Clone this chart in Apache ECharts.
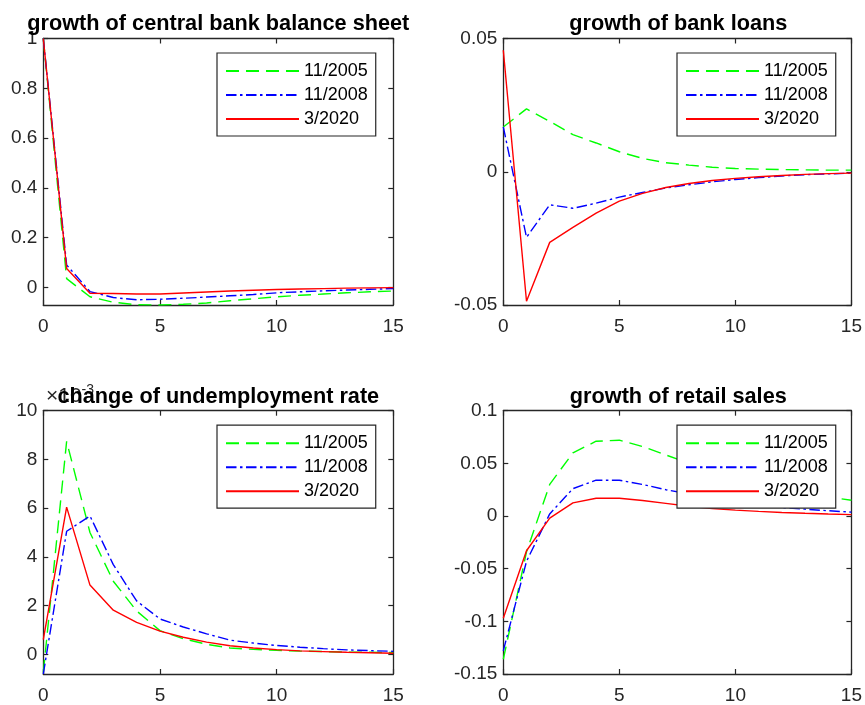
<!DOCTYPE html>
<html>
<head>
<meta charset="utf-8">
<script src="https://cdn.jsdelivr.net/npm/echarts@6/dist/echarts.min.js"></script>
<style>
  html, body { margin: 0; padding: 0; background: #fff; }
  #chart { width: 865px; height: 705px; }
</style>
</head>
<body>
<div id="chart"></div>
<script>
// Impulse responses over 0..15 periods for three episodes
const periods = [0, 1, 2, 3, 4, 5, 6, 7, 8, 9, 10, 11, 12, 13, 14, 15];
const episodes = ['11/2005', '11/2008', '3/2020'];

const panelTitles = [
  'growth of central bank balance sheet',
  'growth of bank loans',
  'change of undemployment rate',
  'growth of retail sales'
];

// growth of central bank balance sheet
const balance2005 = [1, 0.035, -0.038, -0.060, -0.070, -0.071, -0.068, -0.063, -0.054, -0.046, -0.038, -0.032, -0.027, -0.022, -0.018, -0.015];
const balance2008 = [1, 0.090, -0.017, -0.041, -0.050, -0.048, -0.044, -0.039, -0.034, -0.029, -0.022, -0.018, -0.014, -0.011, -0.008, -0.005];
const balance2020 = [1, 0.076, -0.024, -0.025, -0.027, -0.027, -0.023, -0.019, -0.015, -0.012, -0.009, -0.007, -0.005, -0.003, -0.002, -0.001];

// growth of bank loans
const loans2005 = [0.0168, 0.0236, 0.0189, 0.0139, 0.0108, 0.0075, 0.0050, 0.0034, 0.0025, 0.0017, 0.0012, 0.0010, 0.0008, 0.0007, 0.0006, 0.0006];
const loans2008 = [0.0168, -0.0246, -0.0124, -0.0137, -0.0118, -0.0095, -0.0078, -0.0061, -0.0049, -0.0038, -0.0029, -0.0022, -0.0016, -0.0011, -0.0008, -0.0005];
const loans2020 = [0.0456, -0.0486, -0.0265, -0.0209, -0.0155, -0.0110, -0.0081, -0.0059, -0.0044, -0.0033, -0.0025, -0.0019, -0.0014, -0.0010, -0.0007, -0.0005];

// change of unemployment rate
const unemp2005 = [-0.00075, 0.00874, 0.00500, 0.00300, 0.00178, 0.00097, 0.00064, 0.00041, 0.00026, 0.00020, 0.00016, 0.00013, 0.00011, 0.00009, 0.00008, 0.00007];
const unemp2008 = [-0.00081, 0.00505, 0.00568, 0.00368, 0.00219, 0.00145, 0.00112, 0.00084, 0.00058, 0.00046, 0.00036, 0.00029, 0.00023, 0.00018, 0.00015, 0.00012];
const unemp2020 = [0.00060, 0.00604, 0.00284, 0.00181, 0.00131, 0.00095, 0.00070, 0.00050, 0.00035, 0.00026, 0.00019, 0.00014, 0.00011, 0.00008, 0.00006, 0.00004];

// growth of retail sales
const retail2005 = [-0.136, -0.034, 0.030, 0.060, 0.071, 0.072, 0.066, 0.058, 0.050, 0.043, 0.036, 0.031, 0.026, 0.022, 0.018, 0.015];
const retail2008 = [-0.128, -0.043, 0.002, 0.026, 0.034, 0.034, 0.030, 0.025, 0.021, 0.017, 0.013, 0.010, 0.008, 0.0065, 0.005, 0.0037];
const retail2020 = [-0.097, -0.033, -0.002, 0.0125, 0.0169, 0.0169, 0.0147, 0.0120, 0.0093, 0.0072, 0.0056, 0.0044, 0.0034, 0.0026, 0.0019, 0.0013];

// y-axis ranges and tick values per panel
const yRanges = [[-0.071, 1], [-0.05, 0.05], [-0.00081, 0.01], [-0.15, 0.1]];
const yTicks = [
  [0, 0.2, 0.4, 0.6, 0.8, 1],
  [-0.05, 0, 0.05],
  [0, 0.002, 0.004, 0.006, 0.008, 0.01],
  [-0.15, -0.1, -0.05, 0, 0.05, 0.1]
];
const xTicks = [0, 5, 10, 15];

const panelSeries = [
  [balance2005, balance2008, balance2020],
  [loans2005, loans2008, loans2020],
  [unemp2005, unemp2008, unemp2020],
  [retail2005, retail2008, retail2020]
];

const FONT = '"Liberation Sans", Arial, Helvetica, sans-serif';
const AXIS_COLOR = '#262626';

// plot boxes in pixels
const boxes = [
  { left: 43.3, top: 38.5, width: 350, height: 266.5 },
  { left: 503.3, top: 38.5, width: 350, height: 266.5 },
  { left: 43.3, top: 410.7, width: 350, height: 266.6 },
  { left: 503.3, top: 410.7, width: 350, height: 266.6 }
];

const lineStyles = [
  { color: '#00ff00', type: [13, 7] },
  { color: '#0000ff', type: [10.5, 3.5, 2.5, 3.5] },
  { color: '#ff0000', type: 'solid' }
];

function fmtY(panel) {
  return function (v) {
    if (panel === 2) return String(Math.round(v * 1000));
    const r = Math.round(v * 1000) / 1000;
    return String(r);
  };
}

const grids = [], xAxes = [], yAxes = [], series = [], legends = [];

boxes.forEach(function (b, p) {
  grids.push({ left: b.left, top: b.top, width: b.width, height: b.height, containLabel: false });
  const commonLine = { show: true, onZero: false, lineStyle: { color: AXIS_COLOR, width: 1.3 } };
  const tick = { show: true, inside: true, length: 5, lineStyle: { color: AXIS_COLOR, width: 1.2 } };
  // bottom and top x axes
  [false, true].forEach(function (isTop) {
    xAxes.push({
      type: 'value', gridIndex: p, min: 0, max: 15,
      position: isTop ? 'top' : 'bottom',
      axisLine: commonLine,
      axisTick: Object.assign({ customValues: xTicks }, tick),
      axisLabel: {
        show: !isTop, customValues: xTicks, margin: 12,
        color: AXIS_COLOR, fontSize: 19, fontFamily: FONT
      },
      splitLine: { show: false }
    });
  });
  // left and right y axes
  [false, true].forEach(function (isRight) {
    yAxes.push({
      type: 'value', gridIndex: p, min: yRanges[p][0], max: yRanges[p][1],
      position: isRight ? 'right' : 'left',
      axisLine: commonLine,
      axisTick: Object.assign({ customValues: yTicks[p] }, tick),
      axisLabel: {
        show: !isRight, customValues: yTicks[p], margin: 6,
        color: AXIS_COLOR, fontSize: 19, fontFamily: FONT,
        formatter: fmtY(p)
      },
      splitLine: { show: false }
    });
  });
  panelSeries[p].forEach(function (vals, k) {
    series.push({
      type: 'line',
      name: episodes[k],
      xAxisIndex: 2 * p,
      yAxisIndex: 2 * p,
      data: periods.map(function (t, i) { return [t, vals[i]]; }),
      symbol: 'none',
      smooth: false,
      clip: true,
      lineStyle: { color: lineStyles[k].color, type: lineStyles[k].type, width: 1.4 },
      itemStyle: { color: lineStyles[k].color },
      emphasis: { disabled: true }
    });
  });
  legends.push({
    data: episodes,
    orient: 'vertical',
    left: b.left + 173.7,
    top: b.top + 14.5,
    backgroundColor: '#ffffff',
    borderColor: AXIS_COLOR,
    borderWidth: 1.2,
    borderRadius: 0,
    padding: [9, 8, 8, 8],
    itemWidth: 73,
    itemHeight: 14,
    itemGap: 6,
    selectedMode: false,
    itemStyle: { opacity: 0 },
    textStyle: { fontSize: 18, color: '#000', fontFamily: FONT, lineHeight: 18 }
  });
});

const graphics = [];
// exponent marker for the unemployment panel
graphics.push({
  type: 'text', x: 46, y: 409, z: 1,
  style: {
    text: '×10{s|-3}',
    rich: { s: { fontSize: 14, verticalAlign: 'top', fill: AXIS_COLOR, fontFamily: FONT, padding: [0, 0, 12, 0] } },
    fill: AXIS_COLOR, fontSize: 21, fontFamily: FONT,
    align: 'left', verticalAlign: 'bottom'
  }
});
boxes.forEach(function (b, p) {
  graphics.push({
    type: 'text', x: b.left + b.width / 2, y: b.top - 14, z: 100,
    style: {
      text: panelTitles[p], fill: '#000', fontSize: 21.7, fontWeight: 'bold', fontFamily: FONT,
      align: 'center', verticalAlign: 'middle'
    }
  });
});

const chart = echarts.init(document.getElementById('chart'), null, { renderer: 'canvas' });
chart.setOption({
  animation: false,
  backgroundColor: '#ffffff',
  grid: grids,
  xAxis: xAxes,
  yAxis: yAxes,
  legend: legends,
  series: series,
  graphic: graphics
});
</script>
</body>
</html>
